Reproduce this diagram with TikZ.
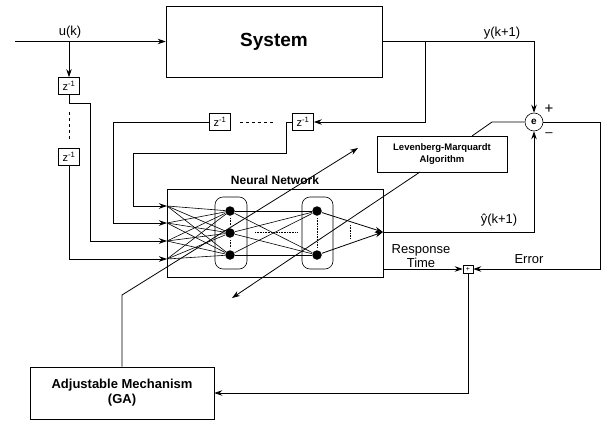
\documentclass[tikz,border=0pt]{standalone}
\usepackage{fontspec}
\setmainfont{Liberation Sans}
\usetikzlibrary{arrows.meta}
\begin{document}
\begin{tikzpicture}[x=1pt,y=-1pt, line width=0.8pt, >={Stealth[length=8pt,width=5.5pt]},
  box/.style={draw, line width=0.6pt, inner sep=0pt, align=center},
  zbox/.style={draw, line width=0.6pt, inner sep=2pt, minimum width=21pt, minimum height=17pt, font=\fontsize{11}{11}\selectfont},
  neuron/.style={circle, fill=black, inner sep=0pt, minimum size=9.5pt},
  lbl/.style={inner sep=0pt, font=\fontsize{13}{13}\selectfont},
  blbl/.style={inner sep=0pt, align=center, font=\fontsize{12}{14}\selectfont\bfseries},
  thinl/.style={line width=0.6pt},
  dotl/.style={line width=0.6pt, densely dotted}]
\useasboundingbox (0,0) rectangle (602,423);

% boxes
\node[box, minimum width=216pt, minimum height=71pt, font=\fontsize{19}{19}\selectfont\bfseries] (sys) at (274,41.5) {System};
\node[box, minimum width=130pt, minimum height=36pt, font=\fontsize{9.5}{12}\selectfont\bfseries] (lm) at (442,154) {Levenberg-Marquardt\\Algorithm};
\node[box, minimum width=184pt, minimum height=52pt, font=\fontsize{13}{15}\selectfont\bfseries] (ga) at (122,393) {Adjustable Mechanism\\(GA)};
\node[box, minimum width=216pt, minimum height=88pt] (nn) at (275,233) {};
\node[blbl] (nnl) at (275,180) {Neural Network};
\node[circle, draw, line width=0.6pt, minimum size=18pt, inner sep=0pt, font=\bfseries] (e) at (534,122) {e};
\node[draw, line width=0.6pt, minimum width=10pt, minimum height=8pt, inner sep=0pt, font=\fontsize{7}{7}\selectfont] (sum) at (468,269) {+};

% delay boxes
\node[zbox] (za) at (69,86) {z\textsuperscript{-1}};
\node[zbox] (zb) at (69,157) {z\textsuperscript{-1}};
\node[zbox] (zc) at (220,122) {z\textsuperscript{-1}};
\node[zbox] (zd) at (303,122) {z\textsuperscript{-1}};

% labels
\node[lbl] (lu) at (70,32) {u(k)};
\node[lbl] (ly) at (502,33) {y(k+1)};
\node[lbl] (lyh) at (499,220) {ŷ(k+1)};
\node[lbl, font=\fontsize{15}{15}\selectfont] (lplus) at (549,109) {+};
\node[lbl] (lminus) at (549,135) {\textendash};
\node[lbl] (lresp) at (421,250) {Response};
\node[lbl] (ltime) at (421,263) {Time};
\node[lbl] (lerr) at (529,259) {Error};

% coordinates
\coordinate (ustart) at (15,41.5);
\coordinate (ub) at (69,41.5);
\coordinate (in1) at (167,206);
\coordinate (in2) at (167,223);
\coordinate (in3) at (167,241);
\coordinate (in4) at (167,259);
\coordinate (out) at (383,232);
\coordinate (rt) at (383,269);
\coordinate (ecorner) at (600,269);
\coordinate (ybr) at (425,41.5);
\coordinate (lmtop) at (472,136);
\coordinate (lmk) at (492,122);
\coordinate (lmbot) at (420,172);
\coordinate (lmend) at (232,298);
\coordinate (gak) at (122,295);
\coordinate (gaend) at (358,148);

% neurons
\node[neuron] (n11) at (230,211) {};
\node[neuron] (n12) at (230,233) {};
\node[neuron] (n13) at (230,255) {};
\node[neuron] (n21) at (317,211) {};
\node[neuron] (n22) at (317,255) {};
\draw[thinl, rounded corners=8pt] (215,197) rectangle (247,269);
\draw[thinl, rounded corners=8pt] (302,197) rectangle (333,269);
\draw[dotl] (230,218) -- (230,226);
\draw[dotl] (230,240) -- (230,248);
\draw[dotl] (317,218) -- (317,248);
\draw[dotl] (255,232) -- (298,232);
\draw[dotl] (350,225) -- (350,239);

% network connections
\foreach \i in {in1,in2,in3,in4}
  \foreach \j in {n11,n12,n13}
    \draw[thinl] (\i) -- (\j);
\foreach \i in {n11,n12,n13}
  \foreach \j in {n21,n22}
    \draw[thinl] (\i) -- (\j);
\draw[->] (n21) -- (out);
\draw[->] (n22) -- (out);

% signal paths
\draw[->] (ustart) -- (sys.west);
\draw[->] (ub) -- (za.north);
\draw[->] (za.south) |- (90,103) |- (in3);
\draw[thinl, dashed] (69,112) -- (69,139);
\draw[->] (zb.south) |- (in4);
\draw[->] (zc.west) -| (113,223) -- (in2);
\draw[->] (zd.west) -- (286,122) |- (133,153) |- (in1);
\draw[thinl, dashed] (240,122) -- (276,122);
\draw[->] (sys.east) -| (e.north);
\draw[->] (ybr) |- (zd.east);
\draw[->] (out) -| (e.south);
\draw (lmtop) -- (lmk) -- (e.west);
\draw[->] (e.east) -| (ecorner) -- (sum.east);
\draw[->] (rt) -- (sum.west);
\draw[->] (sum.south) |- (ga.east);
\draw[->] (lmbot) -- (lmend);
\draw[->] (ga.north) -- (gak) -- (gaend);
\end{tikzpicture}
\end{document}
